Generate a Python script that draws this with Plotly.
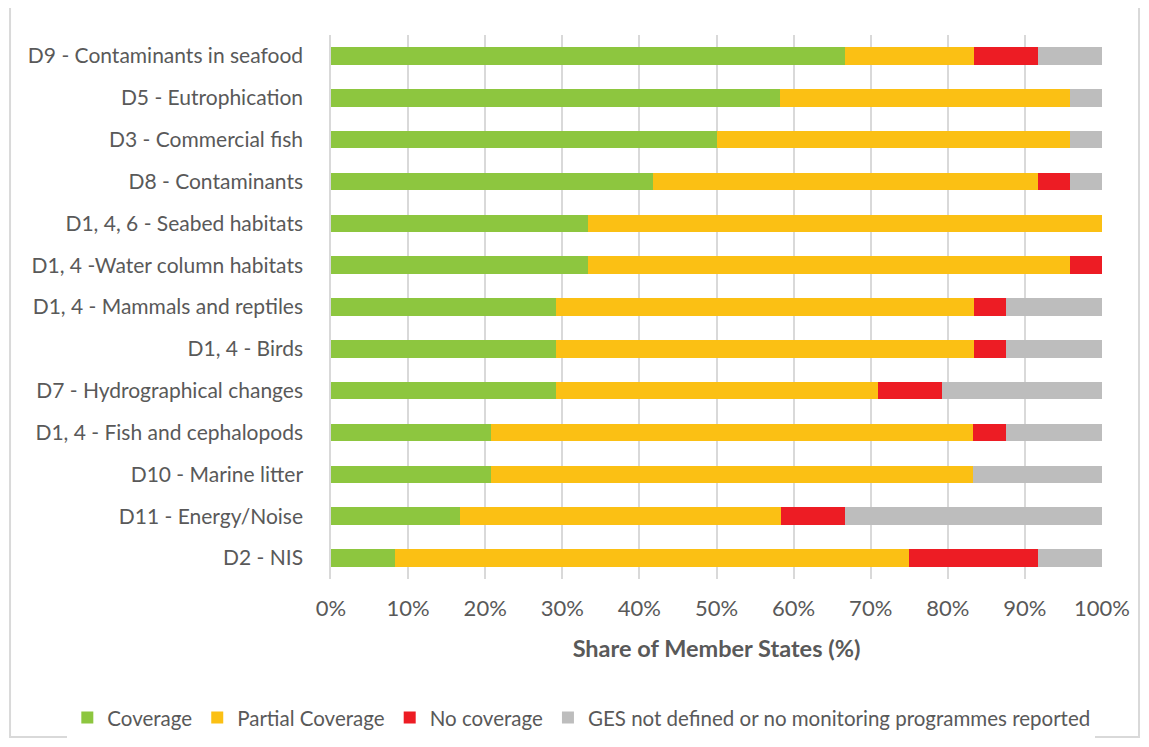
import plotly.graph_objects as go

categories = [
    "D9 - Contaminants in seafood",
    "D5 - Eutrophication",
    "D3 - Commercial fish",
    "D8 - Contaminants",
    "D1, 4, 6 - Seabed habitats",
    "D1, 4 -Water column habitats",
    "D1, 4 - Mammals and reptiles",
    "D1, 4 - Birds",
    "D7 - Hydrographical changes",
    "D1, 4 - Fish and cephalopods",
    "D10 - Marine litter",
    "D11 - Energy/Noise",
    "D2 - NIS",
]
coverage = [66.7, 58.3, 50.0, 41.7, 33.3, 33.3, 29.2, 29.2, 29.2, 20.8, 20.8, 16.7, 8.3]
partial = [16.7, 37.5, 45.8, 50.0, 66.7, 62.5, 54.2, 54.2, 41.7, 62.5, 62.5, 41.7, 66.7]
no_cov = [8.3, 0.0, 0.0, 4.2, 0.0, 4.2, 4.2, 4.2, 8.3, 4.2, 0.0, 8.3, 16.7]
ges_nd = [8.3, 4.2, 4.2, 4.2, 0.0, 0.0, 12.5, 12.5, 20.8, 12.5, 16.7, 33.3, 8.3]

series = [
    ("Coverage", coverage, "#8DC63F"),
    ("Partial Coverage", partial, "#FBC014"),
    ("No coverage", no_cov, "#ED1C24"),
    ("GES not defined or no monitoring programmes reported", ges_nd, "#BDBDBD"),
]

FONT = "Lato, Open Sans, sans-serif"
TXT = "#595959"

fig = go.Figure()
for name, vals, col in series:
    fig.add_trace(go.Bar(
        y=categories, x=vals, name=name, orientation="h",
        marker=dict(color=col, line=dict(width=0)),
    ))

# page body has an 8px offset; figure sized to fit the window
W, H = 1133, 731
fig.update_layout(
    barmode="stack",
    bargap=0.58,
    width=W, height=H,
    margin=dict(l=323, r=39, t=27, b=160, autoexpand=False),
    paper_bgcolor="white", plot_bgcolor="white",
    font=dict(family=FONT, size=21, color=TXT),
    xaxis=dict(
        range=[0, 100], tickvals=list(range(0, 101, 10)),
        ticktext=[f"{v}%" for v in range(0, 101, 10)],
        showgrid=True, gridcolor="#D9D9D9", gridwidth=1.5,
        zeroline=False, showline=False, ticks="",
        ticklabelstandoff=14,
        tickfont=dict(size=22, color=TXT),
        title=dict(text="<b>Share of Member States (%)</b>",
                   font=dict(size=23.5, color=TXT), standoff=20),
    ),
    yaxis=dict(
        categoryorder="array", categoryarray=categories,
        autorange="reversed", showgrid=False, showline=True,
        linecolor="#D9D9D9", linewidth=1.5, ticks="",
        ticklabelstandoff=22,
        tickfont=dict(size=21, color=TXT),
    ),
    legend=dict(
        orientation="h", x=-0.342, xanchor="left", y=-0.255, yanchor="middle",
        font=dict(size=20.5, color=TXT), traceorder="normal",
    ),
    showlegend=True,
)

fig.add_shape(type="rect", xref="paper", yref="paper",
              x0=-0.4163, x1=1.048, y0=-0.2904, y1=1.0533,
              line=dict(color="#D9D9D9", width=2), fillcolor="rgba(0,0,0,0)",
              layer="below")

fig.write_html("out.html")
